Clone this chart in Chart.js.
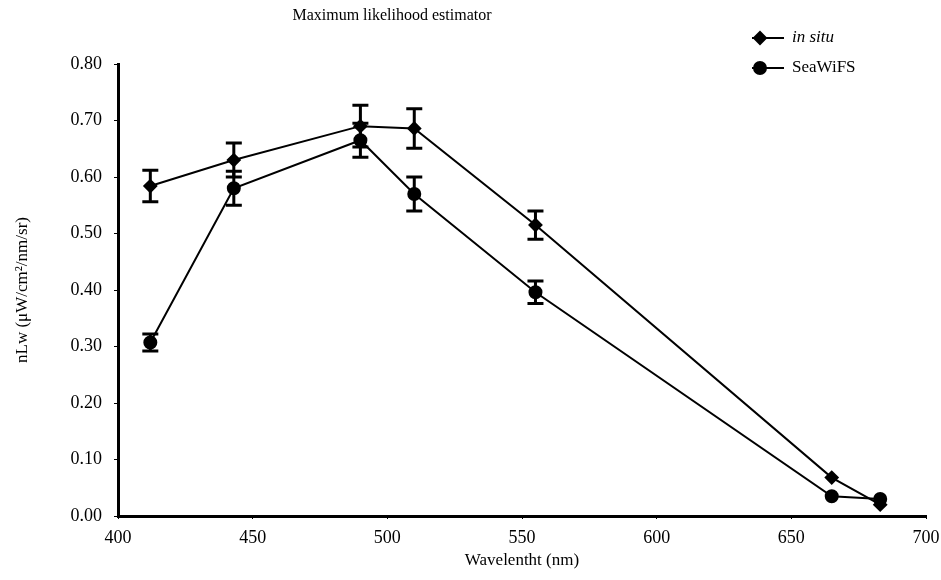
<!DOCTYPE html>
<html>
<head>
<meta charset="utf-8">
<script src="https://cdn.jsdelivr.net/npm/chart.js@4.4.1/dist/chart.umd.min.js"></script>
<style>
  html, body { margin: 0; padding: 0; background: #fff; }
  #wrap { width: 941px; height: 580px; position: relative; }
</style>
</head>
<body>
<div id="wrap"><canvas id="mleChart" width="941" height="580"></canvas></div>
<script>
// Wavelengths and nLw values
const wavelengths = [412, 443, 490, 510, 555, 665, 683];
const inSituValues = [0.584, 0.630, 0.690, 0.686, 0.515, 0.068, 0.020];
const inSituErrors = [0.028, 0.030, 0.037, 0.035, 0.025, 0, 0];
const seawifsValues = [0.307, 0.580, 0.665, 0.570, 0.396, 0.035, 0.030];
const seawifsErrors = [0.015, 0.030, 0.030, 0.030, 0.020, 0, 0];
const xTicks = [400, 450, 500, 550, 600, 650, 700];
const yTicks = [0, 0.1, 0.2, 0.3, 0.4, 0.5, 0.6, 0.7, 0.8];

const serif = "'Liberation Serif', 'DejaVu Serif', serif";

// Error bars, drawn through the chart's scales
const errorBarPlugin = {
  id: 'errorBars',
  afterDatasetsDraw(chart) {
    const ctx = chart.ctx;
    const xs = chart.scales.x, ys = chart.scales.y;
    const errs = [inSituErrors, seawifsErrors];
    ctx.save();
    ctx.strokeStyle = '#000';
    ctx.lineWidth = 3;
    chart.data.datasets.forEach((ds, i) => {
      ds.data.forEach((pt, j) => {
        const e = errs[i][j];
        if (!e) return;
        const px = xs.getPixelForValue(pt.x);
        const top = ys.getPixelForValue(pt.y + e);
        const bot = ys.getPixelForValue(pt.y - e);
        ctx.beginPath();
        ctx.moveTo(px, top); ctx.lineTo(px, bot);
        ctx.moveTo(px - 8, top); ctx.lineTo(px + 8, top);
        ctx.moveTo(px - 8, bot); ctx.lineTo(px + 8, bot);
        ctx.stroke();
      });
    });
    ctx.restore();
  }
};

// Title and legend in the places the figure has them
const decorPlugin = {
  id: 'decor',
  afterDraw(chart) {
    const ctx = chart.ctx;
    ctx.save();
    ctx.fillStyle = '#000';
    ctx.font = `16px ${serif}`;
    ctx.textAlign = 'center';
    ctx.textBaseline = 'middle';
    ctx.fillText('Maximum likelihood estimator', 392, 16);

    const rows = [
      { label: 'in situ', italic: true, style: 'rectRot', y: 38 },
      { label: 'SeaWiFS', italic: false, style: 'circle', y: 68 }
    ];
    rows.forEach(r => {
      ctx.strokeStyle = '#000';
      ctx.lineWidth = 2;
      ctx.beginPath();
      ctx.moveTo(752, r.y); ctx.lineTo(784, r.y);
      ctx.stroke();
      Chart.helpers.drawPoint(ctx, { pointStyle: r.style, radius: 6, borderWidth: 1 }, 760, r.y);
      ctx.fillStyle = '#000';
      ctx.fill();
      ctx.font = `${r.italic ? 'italic ' : ''}17px ${serif}`;
      ctx.textAlign = 'left';
      ctx.fillText(r.label, 792, r.y);
    });
    ctx.restore();
  }
};

const ctx = document.getElementById('mleChart').getContext('2d');
new Chart(ctx, {
  type: 'line',
  data: {
    datasets: [
      {
        label: 'in situ',
        data: wavelengths.map((w, i) => ({ x: w, y: inSituValues[i] })),
        borderColor: '#000',
        backgroundColor: '#000',
        borderWidth: 2,
        pointStyle: 'rectRot',
        pointRadius: 6,
        tension: 0
      },
      {
        label: 'SeaWiFS',
        data: wavelengths.map((w, i) => ({ x: w, y: seawifsValues[i] })),
        borderColor: '#000',
        backgroundColor: '#000',
        borderWidth: 2,
        pointStyle: 'circle',
        pointRadius: 6,
        tension: 0
      }
    ]
  },
  options: {
    responsive: false,
    animation: false,
    layout: { padding: { left: 0, right: 0, top: 64, bottom: 0 } },
    plugins: {
      legend: { display: false },
      tooltip: { enabled: false }
    },
    scales: {
      x: {
        type: 'linear',
        min: 400,
        max: 700,
        afterBuildTicks: scale => { scale.ticks = xTicks.map(v => ({ value: v })); },
        afterFit: scale => {
          scale.height = 64;
          scale.paddingLeft = 0;
          scale.paddingRight = 15;
        },
        border: { color: '#000', width: 3 },
        grid: { drawOnChartArea: false, drawTicks: true, tickLength: 3, color: '#000' },
        ticks: {
          color: '#000',
          font: { family: serif, size: 18 },
          padding: 8,
          maxRotation: 0
        },
        title: {
          display: true,
          text: 'Wavelentht (nm)',
          color: '#000',
          font: { family: serif, size: 17 },
          padding: { top: 0, bottom: 9 }
        }
      },
      y: {
        min: 0,
        max: 0.8,
        afterBuildTicks: scale => { scale.ticks = yTicks.map(v => ({ value: v })); },
        afterFit: scale => { scale.width = 118; },
        border: { color: '#000', width: 3 },
        grid: { drawOnChartArea: false, drawTicks: true, tickLength: 4, color: '#000' },
        ticks: {
          color: '#000',
          font: { family: serif, size: 18 },
          padding: 12,
          callback: v => v.toFixed(2)
        },
        title: {
          display: true,
          text: 'nLw (μW/cm²/nm/sr)',
          color: '#000',
          font: { family: serif, size: 17 },
          padding: { top: 12, bottom: 0 }
        }
      }
    }
  },
  plugins: [errorBarPlugin, decorPlugin]
});
</script>
</body>
</html>
